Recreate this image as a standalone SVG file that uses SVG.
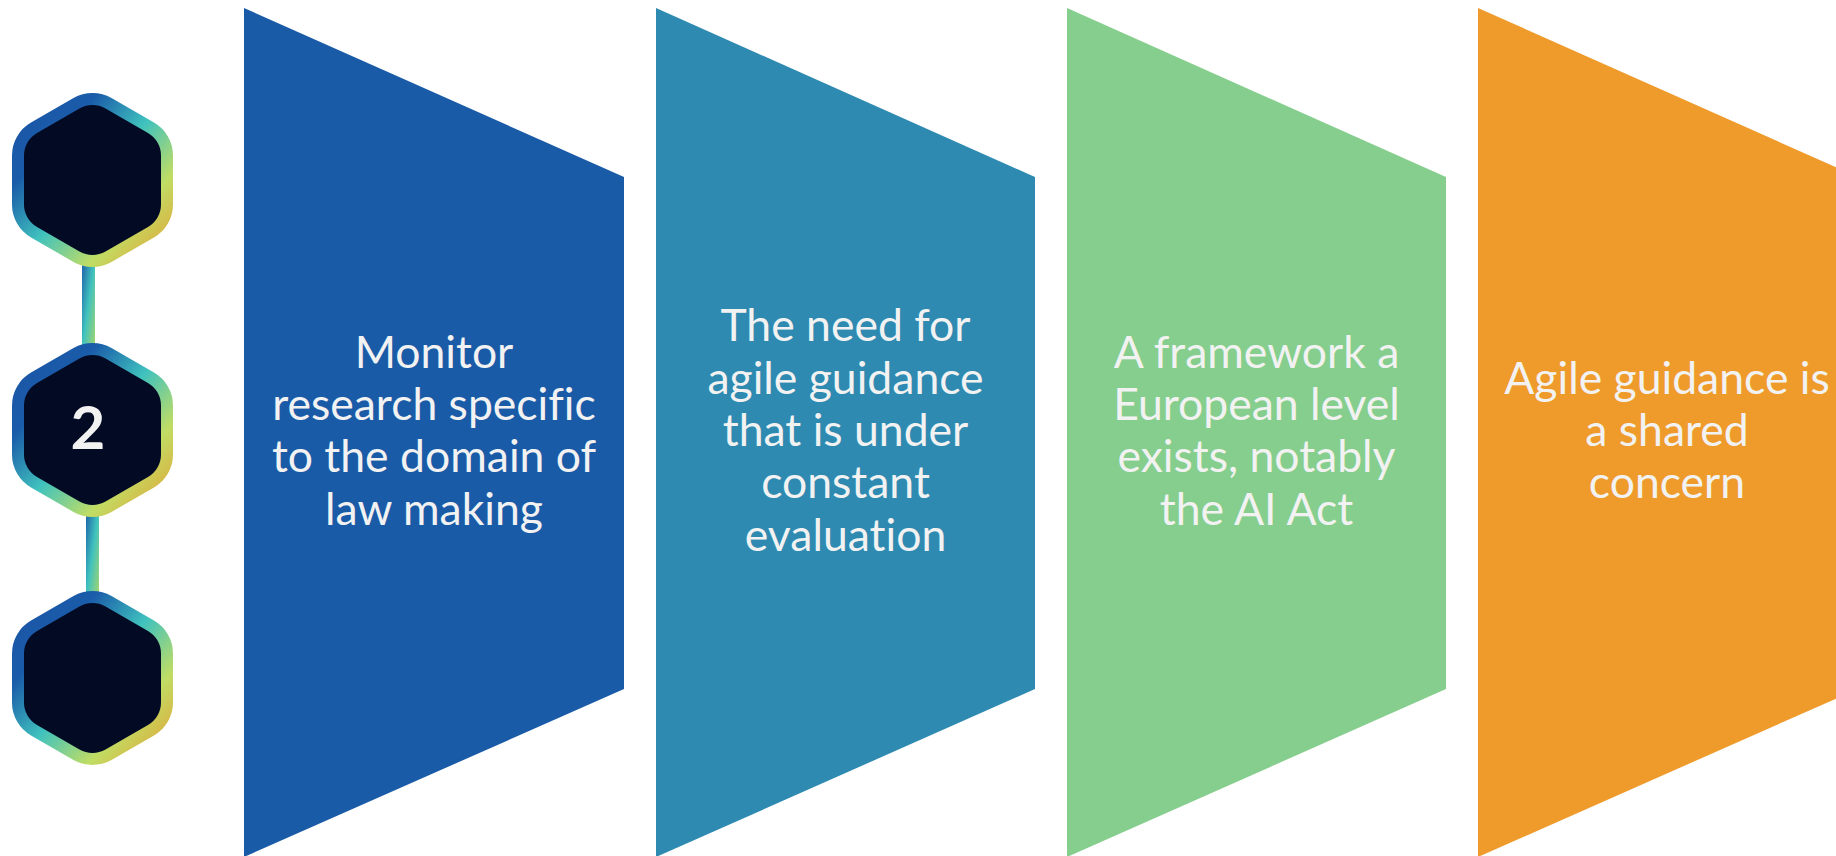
<svg xmlns="http://www.w3.org/2000/svg" width="1836" height="856" viewBox="0 0 1836 856">
<style>
.lbl{font-family:Lato,"Open Sans","Liberation Sans",sans-serif;font-size:44.5px;fill:#F2F2F2;text-anchor:middle;font-variant-ligatures:none;font-feature-settings:"liga" 0}
.num{font-family:Lato,"Open Sans","Liberation Sans",sans-serif;font-size:60px;font-weight:bold;fill:#F2F2F2;text-anchor:middle}
.hex{fill:#020A24;stroke:url(#ring);stroke-width:12}
.bar{fill:url(#barg)}
</style>
<defs>
<linearGradient id="ring" x1="0" y1="0" x2="1" y2="1">
<stop offset="0" stop-color="#1B55A6"/>
<stop offset="0.25" stop-color="#1A5CA9"/>
<stop offset="0.5" stop-color="#40C2BE"/>
<stop offset="0.75" stop-color="#C0DD64"/>
<stop offset="1" stop-color="#E5A335"/>
</linearGradient>
<linearGradient id="barg" x1="0" y1="0" x2="1" y2="1">
<stop offset="0" stop-color="#1B5DA8"/>
<stop offset="0.5" stop-color="#40C2BE"/>
<stop offset="1" stop-color="#A6D66C"/>
</linearGradient>
<path id="hexp" d="M-16.02,-76.75 A32,32 0 0 1 16.02,-76.75 L58.48,-52.25 A32,32 0 0 1 74.5,-24.5 L74.5,24.5 A32,32 0 0 1 58.48,52.25 L16.02,76.75 A32,32 0 0 1 -16.02,76.75 L-58.48,52.25 A32,32 0 0 1 -74.5,24.5 L-74.5,-24.5 A32,32 0 0 1 -58.48,-52.25 Z"/>
</defs>
<rect width="1836" height="856" fill="#FFFFFF"/>
<g id="connectors">
<rect class="bar" x="82" y="258" width="13" height="92"/>
<rect class="bar" x="86" y="508" width="13" height="90"/>
</g>
<g id="hex1"><use href="#hexp" class="hex" transform="translate(92.5,180)"/></g>
<g id="hex2"><use href="#hexp" class="hex" transform="translate(92.5,430)"/><text class="num" x="88" y="449">2</text></g>
<g id="hex3"><use href="#hexp" class="hex" transform="translate(92.5,678)"/></g>
<g id="step1">
<polygon points="244,8 624,177 624,689 244,857" fill="#1A5BA8"/>
<text class="lbl" x="434" y="367.5">Monitor</text>
<text class="lbl" x="434" y="419.8">research specific</text>
<text class="lbl" x="434" y="472.2">to the domain of</text>
<text class="lbl" x="434" y="524.5">law making</text>
</g>
<g id="step2">
<polygon points="656,8 1035,177 1035,689 656,857" fill="#2E8AB1"/>
<text class="lbl" x="845.5" y="341.4">The need for</text>
<text class="lbl" x="845.5" y="393.7">agile guidance</text>
<text class="lbl" x="845.5" y="446">that is under</text>
<text class="lbl" x="845.5" y="498.3">constant</text>
<text class="lbl" x="845.5" y="550.6">evaluation</text>
</g>
<g id="step3">
<polygon points="1067,8 1446,177 1446,689 1067,857" fill="#86CE8D"/>
<text class="lbl" x="1256.5" y="367.5">A framework a</text>
<text class="lbl" x="1256.5" y="419.8">European level</text>
<text class="lbl" x="1256.5" y="472.2">exists, notably</text>
<text class="lbl" x="1256.5" y="524.5">the AI Act</text>
</g>
<g id="step4">
<polygon points="1478,8 1858,177 1858,689 1478,857" fill="#EF9B2C"/>
<text class="lbl" x="1667" y="393.7">Agile guidance is</text>
<text class="lbl" x="1667" y="446">a shared</text>
<text class="lbl" x="1667" y="498.3">concern</text>
</g>
</svg>
